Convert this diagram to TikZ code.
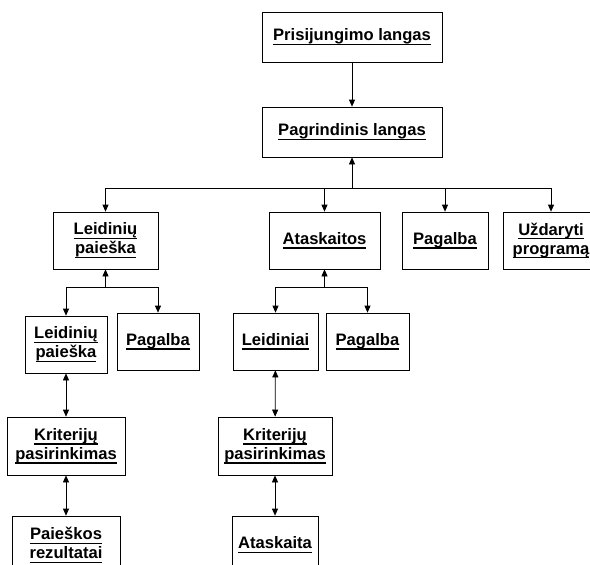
\documentclass[tikz,border=0pt]{standalone}
\usepackage{fontspec}
\setmainfont{Liberation Sans}
\usetikzlibrary{arrows.meta}

\newcommand{\pabr}[1]{\setbox0\hbox{#1}\rlap{\rule[-4.2pt]{\wd0}{1.2pt}}\box0} %% underlined word

\begin{document}
\begin{tikzpicture}[x=1pt, y=-1pt, >={Triangle[width=6pt,length=7pt]}, line width=0.7pt]
    \tikzset{langas/.style={draw, align=center, inner sep=0pt,
        font=\bfseries\fontsize{16.6}{19}\selectfont}} %% one window of the program
    \clip (0,0) rectangle (590,565);

    % top
    \node[langas, minimum width=180, minimum height=50] (prisij) at (352,37) {\pabr{Prisijungimo langas}};
    \node[langas, minimum width=180, minimum height=50] (pagr) at (352,132) {\pabr{Pagrindinis langas}};

    % second level
    \node[langas, minimum width=105, minimum height=57] (leid) at (105.5,240.5) {\pabr{Leidinių}\\\pabr{paieška}};
    \node[langas, minimum width=111, minimum height=57] (atask) at (324.5,240.5) {\pabr{Ataskaitos}};
    \node[langas, minimum width=86, minimum height=57] (pagalba) at (445,240.5) {\pabr{Pagalba}};
    \node[langas, minimum width=96, minimum height=57] (uzd) at (551,240.5) {\pabr{Uždaryti}\\\pabr{programą}};

    % third level
    \node[langas, minimum width=82, minimum height=57] (leidpai) at (66,344.5) {\pabr{Leidinių}\\\pabr{paieška}};
    \node[langas, minimum width=82, minimum height=57] (pagalbaA) at (158,341.5) {\pabr{Pagalba}};
    \node[langas, minimum width=85, minimum height=57] (leidiniai) at (275.5,341.5) {\pabr{Leidiniai}};
    \node[langas, minimum width=83, minimum height=57] (pagalbaB) at (367.5,341.5) {\pabr{Pagalba}};

    % criteria and results
    \node[langas, minimum width=118, minimum height=58] (kritA) at (66,446) {\pabr{Kriterijų}\\\pabr{pasirinkimas}};
    \node[langas, minimum width=114, minimum height=58] (kritB) at (275,446) {\pabr{Kriterijų}\\\pabr{pasirinkimas}};
    \node[langas, minimum width=108, minimum height=58] (rezult) at (66,545) {\pabr{Paieškos}\\\pabr{rezultatai}};
    \node[langas, minimum width=86, minimum height=58] (ataskaita) at (275,545) {\pabr{Ataskaita}};

    \draw[->] (prisij) -- (pagr);

    \draw[<-] (pagr.south) -- ++(0,31) coordinate (sakaA);
    \foreach \n in {leid, atask, pagalba, uzd}
        \draw[->] (sakaA) -| (\n.north);

    \draw[<-] (leid.south) -- ++(0,18) coordinate (sakaB);
    \foreach \n in {leidpai, pagalbaA}
        \draw[->] (sakaB) -| (\n.north);

    \draw[<-] (atask.south) -- ++(0,18) coordinate (sakaC);
    \foreach \n in {leidiniai, pagalbaB}
        \draw[->] (sakaC) -| (\n.north);

    \draw[<->] (leidpai) -- (kritA);
    \draw[<->] (kritA) -- (rezult);
    \draw[<->] (leidiniai) -- (kritB);
    \draw[<->] (kritB) -- (ataskaita);
\end{tikzpicture}
\end{document}
